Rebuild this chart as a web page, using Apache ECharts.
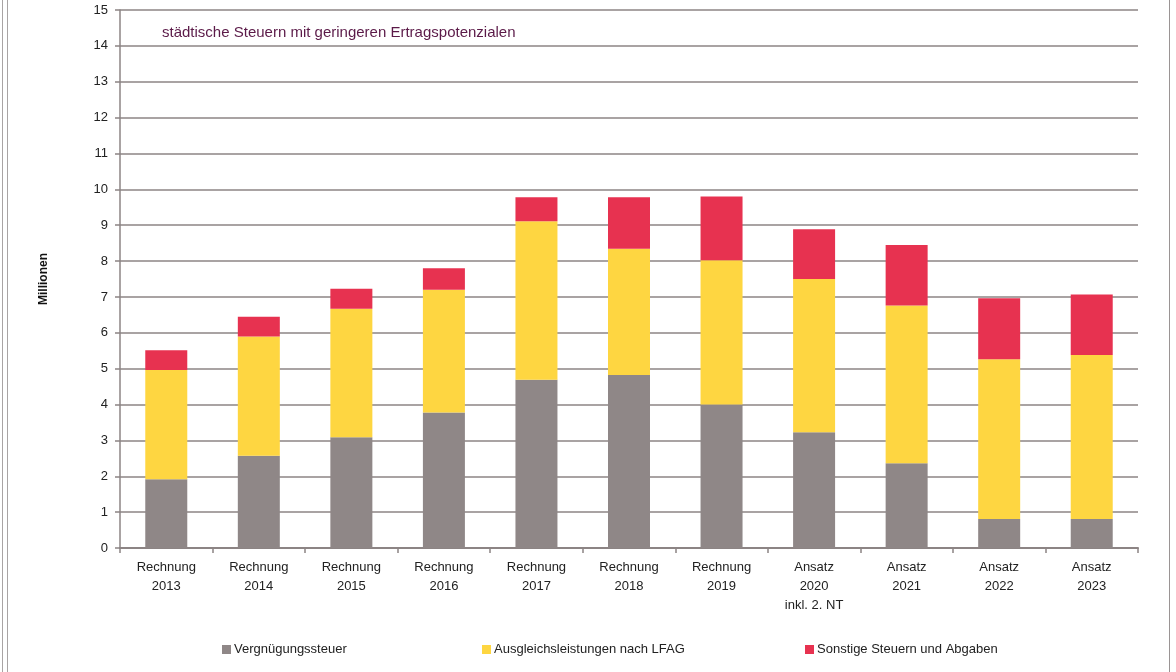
<!DOCTYPE html>
<html><head><meta charset="utf-8">
<script src="https://cdn.jsdelivr.net/npm/echarts@6/dist/echarts.min.js"></script>
<style>html,body{margin:0;padding:0;background:#fff}#c{width:1176px;height:672px}</style>
</head><body><div id="c"></div>
<script>
const categories = ['Rechnung\n2013','Rechnung\n2014','Rechnung\n2015','Rechnung\n2016','Rechnung\n2017','Rechnung\n2018','Rechnung\n2019','Ansatz\n2020\ninkl. 2. NT','Ansatz\n2021','Ansatz\n2022','Ansatz\n2023'];
const vergnuegungssteuer = [1.92, 2.57, 3.09, 3.78, 4.69, 4.82, 4.00, 3.23, 2.36, 0.81, 0.81];
const ausgleichsleistungen = [3.04, 3.33, 3.58, 3.42, 4.42, 3.52, 4.02, 4.27, 4.40, 4.45, 4.57];
const sonstige = [0.55, 0.55, 0.56, 0.60, 0.67, 1.44, 1.78, 1.39, 1.69, 1.70, 1.69];
const seriesNames = ['Vergnügungssteuer','Ausgleichsleistungen nach LFAG','Sonstige Steuern und Abgaben'];
const yTicks = {min: 0, max: 15, interval: 1};
const chartTitle = 'städtische Steuern mit geringeren Ertragspotenzialen';
const yAxisName = 'Millionen';

const FONT = 'Liberation Sans';
const colors = ['#8F8787','#FED641','#E73250'];
const chart = echarts.init(document.getElementById('c'), null, {renderer:'canvas'});
const mkSeries = (name, data, i) => ({
  name, type:'bar', stack:'s', data, barWidth:42,
  itemStyle:{color:colors[i]}, emphasis:{disabled:true}
});
const mkLegend = (name, left) => ({
  data:[name], left, top:643, padding:0, itemWidth:9, itemHeight:9, itemGap:4,
  icon:'rect', textStyle:{fontFamily:FONT, fontSize:13, color:'#222', padding:[0,0,0,-2]}
});
chart.setOption({
  animation:false,
  textStyle:{fontFamily:FONT},
  grid:{left:120, right:38, top:10, bottom:124},
  graphic:[
    {type:'text', left:162, top:25, style:{text:chartTitle, fill:'#5B1A48', font:'15px '+FONT}},
    {type:'line', shape:{x1:2.5,y1:0,x2:2.5,y2:672}, style:{stroke:'#A9A4A4', lineWidth:1}},
    {type:'line', shape:{x1:7.5,y1:0,x2:7.5,y2:672}, style:{stroke:'#A9A4A4', lineWidth:1}},
    {type:'line', shape:{x1:1169.5,y1:0,x2:1169.5,y2:672}, style:{stroke:'#9A9494', lineWidth:1}}
  ],
  legend:[mkLegend(seriesNames[0],222), mkLegend(seriesNames[1],482), mkLegend(seriesNames[2],805)],
  xAxis:{
    type:'category', data:categories,
    axisLine:{lineStyle:{color:'#8C8484', width:2}},
    axisTick:{show:true, length:5, alignWithLabel:false, lineStyle:{color:'#8C8484', width:1.5}},
    axisLabel:{color:'#222', fontSize:13, lineHeight:19, margin:10, interval:0, fontFamily:FONT}
  },
  yAxis:{
    type:'value', min:yTicks.min, max:yTicks.max, interval:yTicks.interval,
    name:yAxisName, nameLocation:'middle', nameGap:70, nameRotate:90,
    nameTextStyle:{fontWeight:'bold', fontSize:12, color:'#111', fontFamily:FONT},
    axisLine:{show:true, lineStyle:{color:'#8C8484', width:1.5}},
    axisTick:{show:true, length:5, lineStyle:{color:'#8C8484', width:1.5}},
    axisLabel:{color:'#222', fontSize:13, margin:12, fontFamily:FONT},
    splitLine:{lineStyle:{color:'#A9A3A3', width:2}}
  },
  series:[mkSeries(seriesNames[0], vergnuegungssteuer, 0), mkSeries(seriesNames[1], ausgleichsleistungen, 1), mkSeries(seriesNames[2], sonstige, 2)]
});
</script></body></html>
